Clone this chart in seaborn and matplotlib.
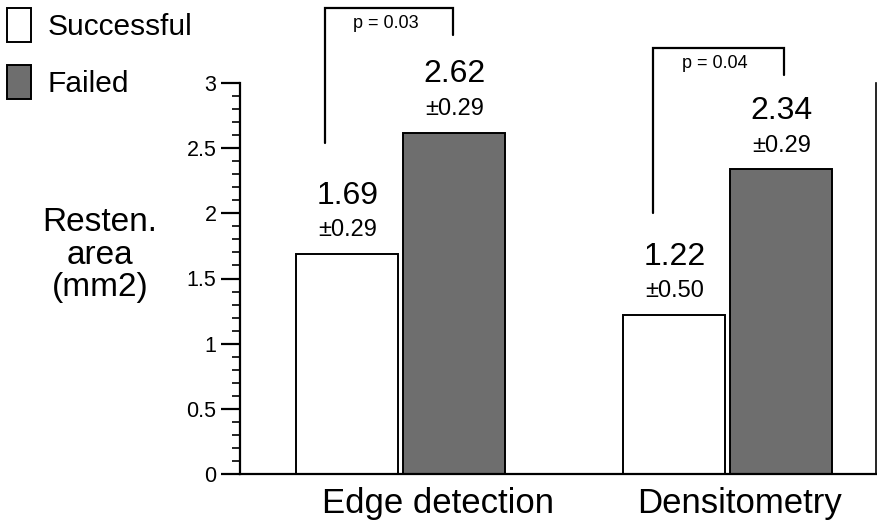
import numpy as np
import pandas as pd
import matplotlib
matplotlib.use('Agg')
import matplotlib.pyplot as plt
from matplotlib.ticker import MultipleLocator
from matplotlib.transforms import ScaledTranslation
import seaborn as sns

methods  = ['Edge detection', 'Densitometry']
outcomes = ['Successful', 'Failed']
area_successful = [1.69, 1.22]
area_failed     = [2.62, 2.34]
sd_successful   = ['±0.29', '±0.50']
sd_failed       = ['±0.29', '±0.29']
p_values        = ['p = 0.03', 'p = 0.04']

df = pd.DataFrame({
    'method':  methods * 2,
    'outcome': [outcomes[0]] * 2 + [outcomes[1]] * 2,
    'area':    area_successful + area_failed,
    'sd':      sd_successful + sd_failed,
})

sns.set_style('white')
plt.rcParams['font.family'] = ['Liberation Sans', 'DejaVu Sans']
plt.rcParams.update({'text.color': 'black', 'axes.labelcolor': 'black',
                     'xtick.color': 'black', 'ytick.color': 'black'})

fig = plt.figure(figsize=(8.77, 5.22), dpi=100)
ax = fig.add_axes([240/877, 48/522, 636/877, 391/522])

sns.barplot(data=df, x='method', y='area', hue='outcome', hue_order=outcomes,
            palette={'Successful': 'white', 'Failed': '#6e6e6e'},
            edgecolor='black', linewidth=1.4, width=0.654, gap=0.046,
            errorbar=None, ax=ax)

ax.set_xlim(-0.492, 1.453)
ax.set_ylim(0, 3)

# value labels above bars
off = 0.1635
for i, m in enumerate(methods):
    for j, (vals, sds) in enumerate([(area_successful, sd_successful),
                                     (area_failed, sd_failed)]):
        x = i + (-off if j == 0 else off)
        y = vals[i]
        ax.annotate(sds[i], (x, y), xytext=(0, 9), textcoords='offset points',
                    ha='center', va='bottom', fontsize=17, annotation_clip=False)
        ax.annotate(f'{y:.2f}', (x, y), xytext=(0, 31), textcoords='offset points',
                    ha='center', va='bottom', fontsize=23, annotation_clip=False)

# significance brackets
brackets = [(-0.232, 0.159, 3.576, 2.54, 3.37),
            (0.771, 1.171, 3.27, 2.0, 3.06)]
for (x0, x1, top, b0, b1), p in zip(brackets, p_values):
    ax.plot([x0, x0, x1, x1], [b0, top, top, b1], color='black', lw=1.6,
            clip_on=False, solid_joinstyle='miter')
    ax.text((x0 + x1) / 2 - 0.01, top - 0.12, p, ha='center', va='center', fontsize=13)

# axes styling
ax.spines['top'].set_visible(False)
for s in ['left', 'bottom', 'right']:
    ax.spines[s].set_color('black')
ax.spines['left'].set_linewidth(1.6)
ax.spines['bottom'].set_linewidth(1.6)
ax.spines['right'].set_linewidth(1.2)

ax.yaxis.set_major_locator(MultipleLocator(0.5))
ax.yaxis.set_minor_locator(MultipleLocator(0.1))
ax.set_yticks([0, 0.5, 1, 1.5, 2, 2.5, 3])
ax.set_yticklabels(['0', '0.5', '1', '1.5', '2', '2.5', '3'])
ax.tick_params(axis='y', which='major', direction='out', length=14, width=1.6,
               labelsize=15.5, pad=3, left=True, right=False, color='black')
ax.tick_params(axis='y', which='minor', direction='out', length=6, width=1.2,
               left=True, right=False, color='black')
ax.tick_params(axis='x', length=0, labelsize=25, pad=9)

ax.set_xlabel('')
ax.set_ylabel('Resten.\narea\n(mm2)', rotation=0, fontsize=24,
              ha='center', va='center', linespacing=1.05)
ax.yaxis.set_label_coords(-0.22, 0.56)

for lbl, dx in zip(ax.get_xticklabels(), [37, 12]):
    lbl.set_transform(lbl.get_transform() + ScaledTranslation(dx / 100, 0, fig.dpi_scale_trans))

sns.move_legend(ax, loc='upper left', bbox_to_anchor=(0.008, 0.985),
                bbox_transform=fig.transFigure, frameon=False, title=None,
                fontsize=21.5, handlelength=0.8, handleheight=1.4,
                handletextpad=0.55, labelspacing=0.75, borderpad=0, borderaxespad=0)

fig.savefig('out.png', dpi=100)
